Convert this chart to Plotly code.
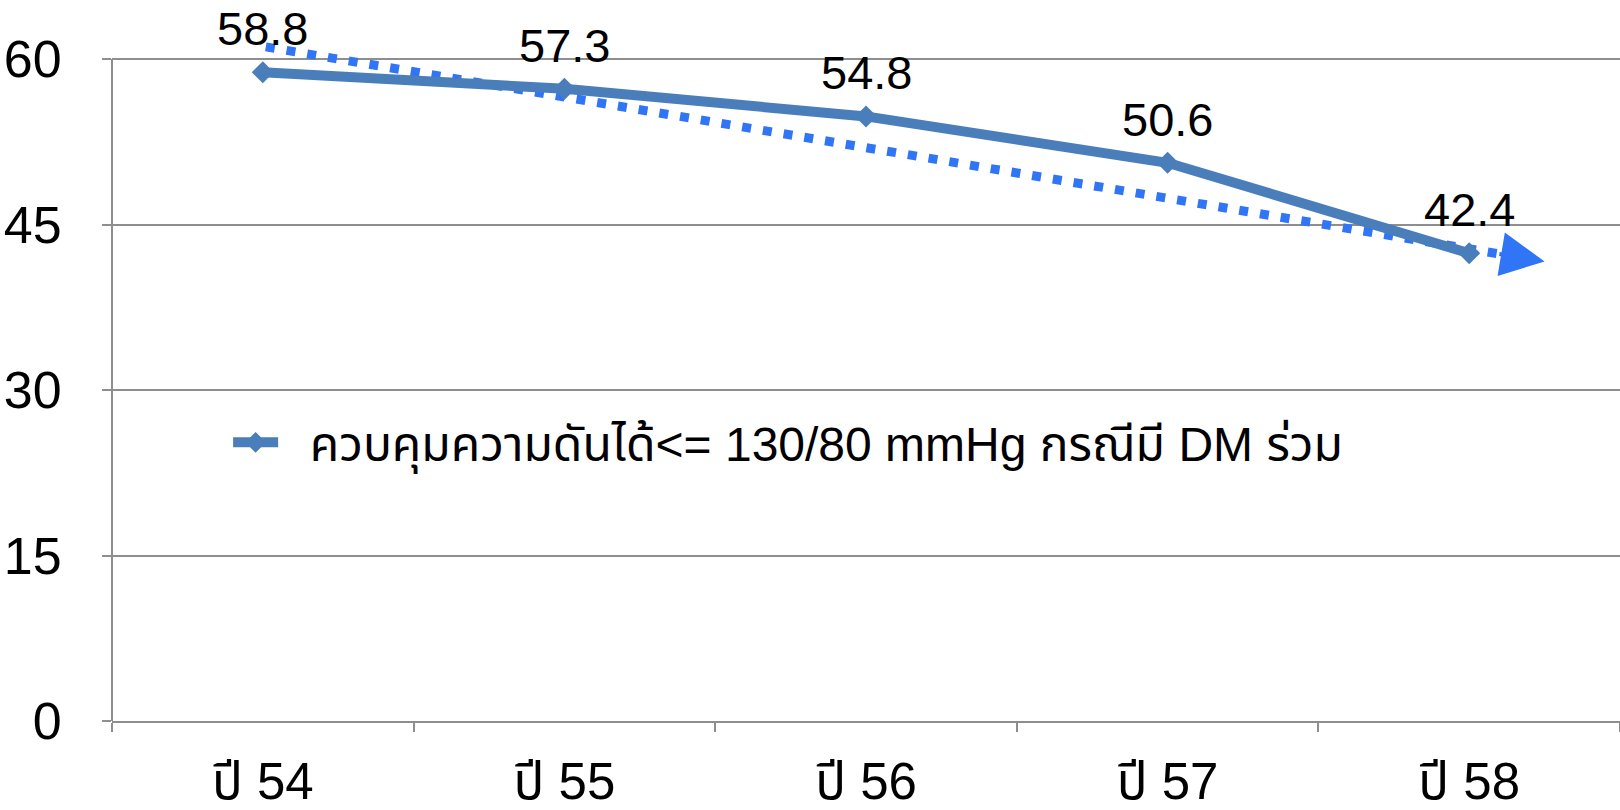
import plotly.graph_objects as go

categories = ["ปี 54", "ปี 55", "ปี 56", "ปี 57", "ปี 58"]
values = [58.8, 57.3, 54.8, 50.6, 42.4]
series_name = "ควบคุมความดันได้<= 130/80 mmHg กรณีมี DM ร่วม"
y_ticks = [0, 15, 30, 45, 60]

# hand-drawn trend arrow, in category-index units:
# dotted start, dotted end, arrow tip
trend_x = [0.01, 4.095, 4.25]
trend_y = [61.1, 42.36, 41.65]

x_idx = list(range(len(categories)))
FONT = "Liberation Sans, Noto Sans Thai, sans-serif"
TREND_COLOR = "#2F75F5"

fig = go.Figure()

fig.add_trace(go.Scatter(
    x=trend_x[:2], y=trend_y[:2], mode="lines",
    line=dict(color=TREND_COLOR, width=9, dash="9px,12px"),
    showlegend=False, hoverinfo="skip"))

fig.add_annotation(
    x=trend_x[2], y=trend_y[2], ax=trend_x[1], ay=trend_y[1],
    xref="x", yref="y", axref="x", ayref="y",
    text="", showarrow=True, arrowhead=2, arrowsize=2.2, arrowwidth=4,
    arrowcolor=TREND_COLOR, standoff=0, startstandoff=0)

fig.add_trace(go.Scatter(
    x=x_idx, y=values, mode="lines+markers",
    name="\u00a0\u00a0" + series_name,
    line=dict(color="#4A7EBB", width=10),
    marker=dict(symbol="diamond", size=17, color="#4A7EBB"),
))

for xi, v in zip(x_idx, values):
    fig.add_annotation(x=xi, y=v, text=f"{v:.1f}", showarrow=False,
                       yanchor="bottom", yshift=15,
                       font=dict(family=FONT, size=47, color="black"))

# left axis line only up to the top tick
fig.add_shape(type="line", xref="paper", yref="y", x0=0, x1=0,
              y0=y_ticks[0], y1=y_ticks[-1],
              line=dict(color="#8E8E8E", width=2), layer="above")

fig.update_layout(
    width=1620, height=810,
    margin=dict(l=112, r=0, t=37, b=84),
    paper_bgcolor="white", plot_bgcolor="white",
    font=dict(family=FONT, size=46, color="black"),
    showlegend=True,
    legend=dict(x=0.077, y=0.407, xanchor="left", yanchor="middle",
                bgcolor="rgba(0,0,0,0)", font=dict(size=48, family=FONT),
                itemwidth=45),
)
fig.update_xaxes(
    range=[-0.5, len(categories) - 0.5],
    tickmode="array", tickvals=x_idx, ticktext=categories,
    ticks="", showgrid=False, zeroline=False,
    showline=True, linecolor="#8E8E8E", linewidth=2,
    tickfont=dict(size=51, family=FONT),
    minor=dict(tickmode="array", tickvals=[i - 0.5 for i in range(len(categories) + 1)],
               ticks="outside", ticklen=9, tickwidth=2, tickcolor="#8E8E8E", showgrid=False),
    ticklabelstandoff=15,
)
fig.update_yaxes(
    range=[0, 62], tickmode="array", tickvals=y_ticks,
    ticks="outside", ticklen=9, tickwidth=2, tickcolor="#8E8E8E",
    showgrid=True, gridcolor="#8E8E8E", gridwidth=2,
    zeroline=False, showline=False,
    tickfont=dict(size=52, family=FONT),
    ticklabelstandoff=30,
)

fig.write_html("out.html")
